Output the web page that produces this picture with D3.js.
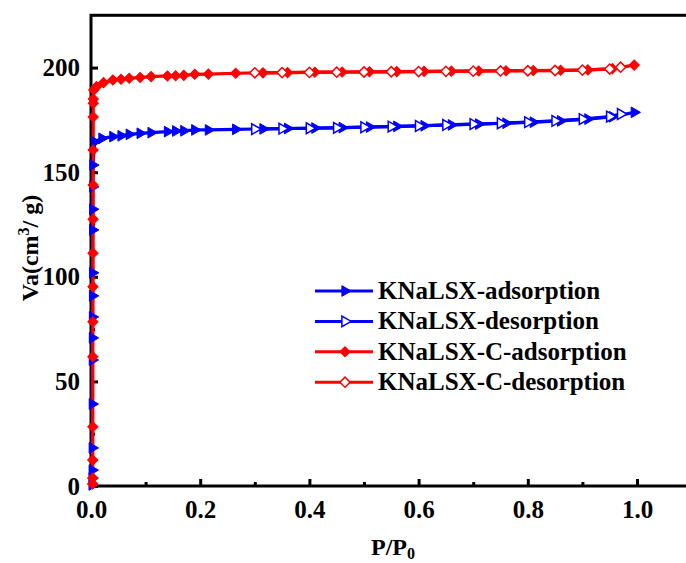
<!DOCTYPE html>
<html>
<head>
<meta charset="utf-8">
<script src="https://cdn.jsdelivr.net/npm/d3@7"></script>
<style>
  body { margin: 0; background: #fff; }
</style>
</head>
<body>
<div id="chart"></div>
<script>
// KNaLSX adsorption / desorption (P/P0, Va)
var kAdsP = [0.0020, 0.0021, 0.0022, 0.0023, 0.0024, 0.0025, 0.0026, 0.0027, 0.0028, 0.0029, 0.0030, 0.0031, 0.0032, 0.0034,
  0.007, 0.02, 0.04, 0.055, 0.07, 0.09, 0.11, 0.14, 0.155, 0.17, 0.19, 0.215, 0.265, 0.315, 0.36, 0.41, 0.46, 0.51,
  0.56, 0.61, 0.66, 0.71, 0.76, 0.81, 0.86, 0.91, 0.955, 0.995];
var kAdsV = [0.5, 3.8, 7.6, 18.2, 39.2, 60.2, 70.8, 80.8, 90.9, 101.9, 122.4, 132.3, 143.0, 153.4,
  164.5, 166.2, 167.0, 167.4, 168.1, 168.6, 168.9, 169.4, 169.7, 169.8, 170.2, 170.2, 170.5, 170.7, 170.9, 171.1, 171.3, 171.6,
  171.9, 172.2, 172.6, 173.0, 173.4, 173.9, 174.5, 175.4, 176.5, 178.6];
var kDesP = [0.97, 0.95, 0.90, 0.85, 0.80, 0.75, 0.70, 0.65, 0.60, 0.55, 0.50, 0.45, 0.40, 0.35, 0.30];
var kDesV = [177.8, 176.6, 175.4, 174.5, 173.9, 173.4, 173.0, 172.6, 172.1, 171.8, 171.5, 171.2, 171.0, 170.8, 170.6];

// KNaLSX-C adsorption / desorption
var cAdsP = [0.0030, 0.0031, 0.0032, 0.0033, 0.0034, 0.0035, 0.0036, 0.0037, 0.0038, 0.0039, 0.0040, 0.0041, 0.0042, 0.0043,
  0.005, 0.01, 0.023, 0.04, 0.055, 0.07, 0.09, 0.11, 0.14, 0.155, 0.17, 0.19, 0.215, 0.265, 0.315, 0.36, 0.41, 0.46, 0.51,
  0.56, 0.61, 0.66, 0.71, 0.76, 0.81, 0.86, 0.91, 0.955, 0.995];
var cAdsV = [1.0, 3.8, 12.4, 28.3, 61.8, 78.5, 95.3, 111.3, 127.5, 143.9, 160.6, 176.4, 183.0, 185.0,
  189.3, 190.9, 192.8, 194.1, 194.4, 194.9, 195.3, 195.7, 196.0, 196.1, 196.3, 196.8, 196.9, 197.3, 197.5, 197.6, 197.8, 197.9, 198.0,
  198.1, 198.2, 198.3, 198.4, 198.5, 198.6, 198.7, 198.9, 199.5, 201.2];
var cDesP = [0.97, 0.95, 0.90, 0.85, 0.80, 0.75, 0.70, 0.65, 0.60, 0.55, 0.50, 0.45, 0.40, 0.35, 0.30];
var cDesV = [200.2, 199.3, 198.8, 198.6, 198.5, 198.4, 198.3, 198.2, 198.1, 198.0, 197.9, 197.8, 197.7, 197.6, 197.5];

var xTicks = [0, 0.2, 0.4, 0.6, 0.8, 1.0];
var xMinor = [0.1, 0.3, 0.5, 0.7, 0.9];
var yTicks = [0, 50, 100, 150, 200];
var yMinor = [25, 75, 125, 175];

var seriesNames = ["KNaLSX-adsorption", "KNaLSX-desorption", "KNaLSX-C-adsorption", "KNaLSX-C-desorption"];

var width = 686, height = 563;
var FONT = "Liberation Serif";

var x = d3.scaleLinear().domain([0, 1.1]).range([91, 91 + 1.1 * 546]);
var y = d3.scaleLinear().domain([0, 225]).range([486, 486 - 225 * 2.092]);

var svg = d3.select("#chart").append("svg")
  .attr("width", width)
  .attr("height", height)
  .attr("font-family", FONT)
  .attr("font-weight", "bold");

function zip(ps, vs) { return ps.map(function (p, i) { return { p: p, v: vs[i] }; }); }

var series = [
  { name: seriesNames[0], data: zip(kAdsP, kAdsV), color: "#0000ff", shape: "tri", filled: true },
  { name: seriesNames[1], data: zip(kDesP, kDesV), color: "#0000ff", shape: "tri", filled: false },
  { name: seriesNames[2], data: zip(cAdsP, cAdsV), color: "#ff0000", shape: "dia", filled: true },
  { name: seriesNames[3], data: zip(cDesP, cDesV), color: "#ff0000", shape: "dia", filled: false }
];

var triPath = d3.symbol().type(d3.symbolTriangle).size(50)();
var diaPath = d3.symbol().type(d3.symbolSquare).size(52)();

function markerAttrs(sel, s) {
  sel.attr("d", s.shape === "tri" ? triPath : diaPath)
    .attr("fill", s.filled ? s.color : "#fff")
    .attr("stroke", s.color)
    .attr("stroke-width", s.filled ? 1 : 1.5);
}

// axes (ticks pointing inward)
var gx = svg.append("g")
  .attr("transform", "translate(0," + y(0) + ")")
  .call(d3.axisBottom(x).tickValues(xTicks).tickSizeInner(-7).tickSizeOuter(0).tickPadding(14)
    .tickFormat(d3.format(".1f")));
gx.attr("font-family", FONT);
gx.select(".domain").remove();
gx.selectAll(".tick line").attr("stroke-width", 3);
gx.selectAll("text").attr("font-size", 25).attr("font-family", FONT).attr("font-weight", "bold").attr("fill", "#000");

var gxm = svg.append("g")
  .attr("transform", "translate(0," + y(0) + ")")
  .call(d3.axisBottom(x).tickValues(xMinor).tickSizeInner(-4).tickSizeOuter(0).tickFormat(""));
gxm.select(".domain").remove();
gxm.selectAll(".tick line").attr("stroke-width", 3);

var gy = svg.append("g")
  .attr("transform", "translate(" + x(0) + ",0)")
  .call(d3.axisLeft(y).tickValues(yTicks).tickSizeInner(-7).tickSizeOuter(0).tickPadding(11));
gy.attr("font-family", FONT);
gy.select(".domain").remove();
gy.selectAll(".tick line").attr("stroke-width", 3);
gy.selectAll("text").attr("font-size", 25).attr("font-family", FONT).attr("font-weight", "bold").attr("fill", "#000");

var gym = svg.append("g")
  .attr("transform", "translate(" + x(0) + ",0)")
  .call(d3.axisLeft(y).tickValues(yMinor).tickSizeInner(-4).tickSizeOuter(0).tickFormat(""));
gym.select(".domain").remove();
gym.selectAll(".tick line").attr("stroke-width", 3);

// frame
svg.append("rect")
  .attr("x", x(0)).attr("y", y(225))
  .attr("width", x(1.1) - x(0)).attr("height", y(0) - y(225))
  .attr("fill", "none").attr("stroke", "#000").attr("stroke-width", 3);

// data lines and markers
var line = d3.line().x(function (d) { return x(d.p); }).y(function (d) { return y(d.v); });

series.forEach(function (s) {
  svg.append("path")
    .datum(s.data)
    .attr("d", line)
    .attr("fill", "none")
    .attr("stroke", s.color)
    .attr("stroke-width", 3.2);
});
series.forEach(function (s) {
  svg.append("g").selectAll("path")
    .data(s.data)
    .enter().append("path")
    .attr("transform", function (d) {
      return "translate(" + x(d.p) + "," + y(d.v) + ") rotate(" + (s.shape === "tri" ? 90 : 45) + ")";
    })
    .call(markerAttrs, s);
});

// legend
var legend = svg.append("g").attr("transform", "translate(315,291)");
series.forEach(function (s, i) {
  var row = legend.append("g").attr("transform", "translate(0," + (i * 30.4) + ")");
  row.append("line").attr("x1", 0).attr("x2", 58).attr("y1", 0).attr("y2", 0)
    .attr("stroke", s.color).attr("stroke-width", 3);
  row.append("path")
    .attr("transform", "translate(30,0) rotate(" + (s.shape === "tri" ? 90 : 45) + ")")
    .call(markerAttrs, s);
  row.append("text").attr("x", 63).attr("y", 8)
    .attr("font-size", 25).attr("font-family", FONT).attr("fill", "#000")
    .text(s.name);
});

// axis titles
var xt = svg.append("text")
  .attr("x", 393).attr("y", 555)
  .attr("text-anchor", "middle")
  .attr("font-family", FONT)
  .attr("font-size", 24);
xt.append("tspan").text("P/P");
xt.append("tspan").attr("font-size", 16).attr("dy", 4).text("0");

var yt = svg.append("text")
  .attr("transform", "translate(38,248) rotate(-90)")
  .attr("text-anchor", "middle")
  .attr("font-family", FONT)
  .attr("font-size", 24);
yt.append("tspan").text("Va(cm");
yt.append("tspan").attr("font-size", 16).attr("dy", -9).text("3");
yt.append("tspan").attr("dy", 9).text("/ g)");
</script>
</body>
</html>
